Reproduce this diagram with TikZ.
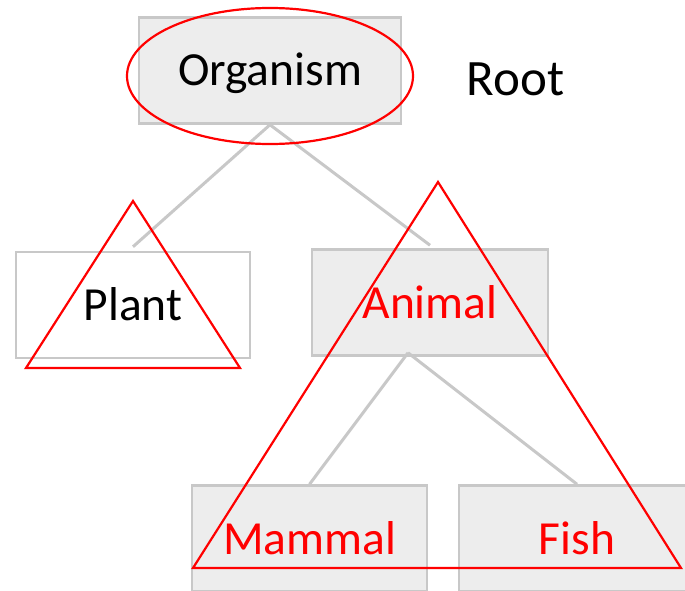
\documentclass[tikz,border=0pt]{standalone}
\usepackage{fontspec}
\setmainfont{Carlito}
\usetikzlibrary{positioning}
\definecolor{boxgray}{HTML}{EDEDED}
\definecolor{linegray}{HTML}{C8C8C8}
\begin{document}
\begin{tikzpicture}[x=1pt, y=-1pt,
  cls/.style={draw=linegray, line width=2.5pt, fill=boxgray, minimum width=236pt, minimum height=106pt,
    inner sep=0pt, text height=31pt, text depth=0pt, font=\fontsize{47.5}{52}\selectfont},
  link/.style={draw=linegray, line width=3pt},
  hilite/.style={draw=red, line width=2.2pt, line join=miter}]
  \useasboundingbox (0,0) rectangle (685,591);
  \clip (0,0) rectangle (685,591);
  \node[cls, minimum width=262pt] (org) at (270,70.5) {Organism};
  \node[cls, fill=white, minimum width=234pt] (plant) at (133,305) {Plant};
  \node[cls, text=red] (animal) at (430,302.5) {Animal};
  \node[cls, text=red, minimum width=235pt] (mammal) at (309.5,538.5) {Mammal};
  \node[cls, text=red] (fish) at (577,538.5) {Fish};
  \node[inner sep=0pt, text height=33pt, text depth=0pt, font=\fontsize{51}{55}\selectfont] (root) at (515.5,79.5) {Root};
  \draw[link] (org.south) -- ([yshift=4pt]plant.north);
  \draw[link] (org.south) -- ([yshift=3pt]animal.north);
  \draw[link] ([xshift=-22pt, yshift=4pt]animal.south) -- (mammal.north);
  \draw[link] ([xshift=-22pt, yshift=4pt]animal.south) -- (fish.north);
  % subtrees
  \draw[hilite] (270,76) ellipse [x radius=143pt, y radius=68pt];
  \draw[hilite] (133,201) -- (26,368) -- (240,368) -- cycle;
  \draw[hilite] (438,182) -- (193,568) -- (681,568) -- cycle;
\end{tikzpicture}
\end{document}
